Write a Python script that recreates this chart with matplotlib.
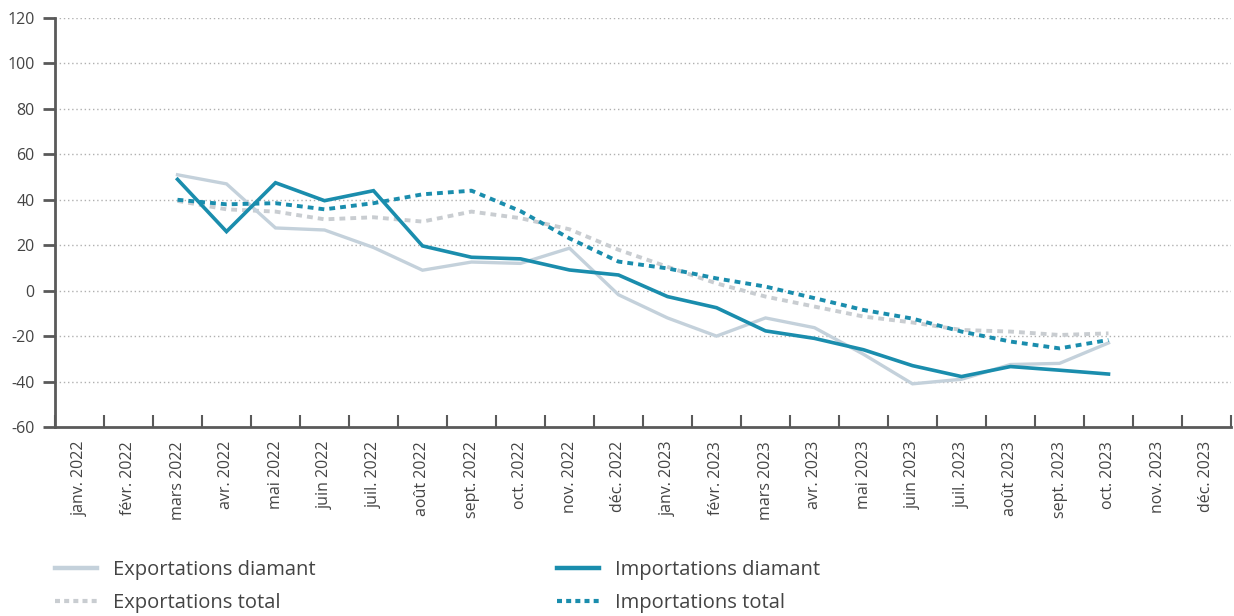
import matplotlib
matplotlib.use("Agg")
import matplotlib.pyplot as plt
import numpy as np
from matplotlib.lines import Line2D

plt.rcParams['font.family'] = ['Open Sans', 'DejaVu Sans']

months = ["janv. 2022", "févr. 2022", "mars 2022", "avr. 2022", "mai 2022", "juin 2022",
          "juil. 2022", "août 2022", "sept. 2022", "oct. 2022", "nov. 2022", "déc. 2022",
          "janv. 2023", "févr. 2023", "mars 2023", "avr. 2023", "mai 2023", "juin 2023",
          "juil. 2023", "août 2023", "sept. 2023", "oct. 2023", "nov. 2023", "déc. 2023"]

# data from mars 2022 to oct. 2023
exp_diamant = [51, 47, 27.6, 26.7, 19, 9, 12.6, 12, 18.7, -1.8, -12, -20, -12, -16.3, -28,
               -41, -39, -32.5, -32, -23]
imp_diamant = [49, 26, 47.5, 39.6, 44, 19.7, 14.7, 14, 9.1, 6.9, -2.6, -7.5, -17.7, -21, -26,
               -33, -37.8, -33.4, -35, -36.7]
exp_total = [39.5, 35.8, 34.8, 31.4, 32.3, 30.4, 34.8, 31.9, 27, 18, 10.5, 3.2, -2.6, -7, -11.4,
             -14, -17.3, -18, -19.5, -18.8]
imp_total = [40, 38, 38.5, 35.8, 38.5, 42.4, 44, 35, 23, 12.8, 9.8, 5.4, 1.8, -3.3, -8.5,
             -12.3, -18, -22.4, -25.4, -21.7]
start_idx = 2

yticks = [-60, -40, -20, 0, 20, 40, 60, 80, 100, 120]

teal = "#1a8dad"
lightblue = "#c4d1db"
lightgray = "#c9cdd1"
axcol = "#5a5a5a"
txtcol = "#444444"

W, H = 1234, 616
fig = plt.figure(figsize=(W / 100, H / 100), dpi=100)
ax = fig.add_axes([55 / W, 1 - 427 / H, (1231 - 55) / W, (427 - 18) / H])

x = np.arange(start_idx, start_idx + len(exp_diamant))
dot = (0, (1.5, 1.3))
ax.plot(x, exp_total, color=lightgray, lw=2.8, linestyle=dot, zorder=3)
ax.plot(x, exp_diamant, color=lightblue, lw=2.4, zorder=4, solid_joinstyle='miter')
ax.plot(x, imp_total, color=teal, lw=2.8, linestyle=dot, zorder=5)
ax.plot(x, imp_diamant, color=teal, lw=2.6, zorder=6, solid_joinstyle='miter')

ax.set_xlim(-0.5, len(months) - 0.5)
ax.set_ylim(-60, 120)
ax.set_yticks(yticks)
ax.set_yticklabels([str(v) for v in yticks])
for v in yticks[1:]:
    ax.axhline(v, color="#b0b0b0", lw=1.0, linestyle=(0, (1, 2)), zorder=1)

ax.set_xticks(np.arange(len(months) + 1) - 0.5)
ax.set_xticklabels([])
ax.set_xticks(np.arange(len(months)), minor=True)
ax.set_xticklabels(months, minor=True, rotation=90, fontsize=11.5, color=txtcol)
ax.tick_params(axis='x', which='major', direction='in', length=9, width=1.5, color=axcol)
ax.tick_params(axis='x', which='minor', length=0, pad=10)
ax.tick_params(axis='y', direction='out', length=8.6, width=2, color=axcol,
               labelsize=11.5, labelcolor=txtcol, pad=6)

for s in ['top', 'right']:
    ax.spines[s].set_visible(False)
ax.spines['left'].set_color(axcol)
ax.spines['left'].set_linewidth(2)
ax.spines['bottom'].set_color(axcol)
ax.spines['bottom'].set_linewidth(2)

legfs = 14.5
leg_kw = dict(loc='upper left', frameon=False, fontsize=legfs, labelcolor=txtcol,
              handlelength=2.1, handletextpad=0.8, labelspacing=0.66, borderpad=0,
              borderaxespad=0)
h_left = [Line2D([], [], color=lightblue, lw=3.2),
          Line2D([], [], color=lightgray, lw=3.0, linestyle=(0, (1.2, 1.0)))]
h_right = [Line2D([], [], color=teal, lw=3.2),
           Line2D([], [], color=teal, lw=3.0, linestyle=(0, (1.2, 1.0)))]
leg1 = fig.legend(h_left, ["Exportations diamant", "Exportations total"],
                  bbox_to_anchor=(55 / W, 1 - 560 / H), **leg_kw)
leg2 = fig.legend(h_right, ["Importations diamant", "Importations total"],
                  bbox_to_anchor=(557 / W, 1 - 560 / H), **leg_kw)

fig.savefig("out.png", dpi=100)
